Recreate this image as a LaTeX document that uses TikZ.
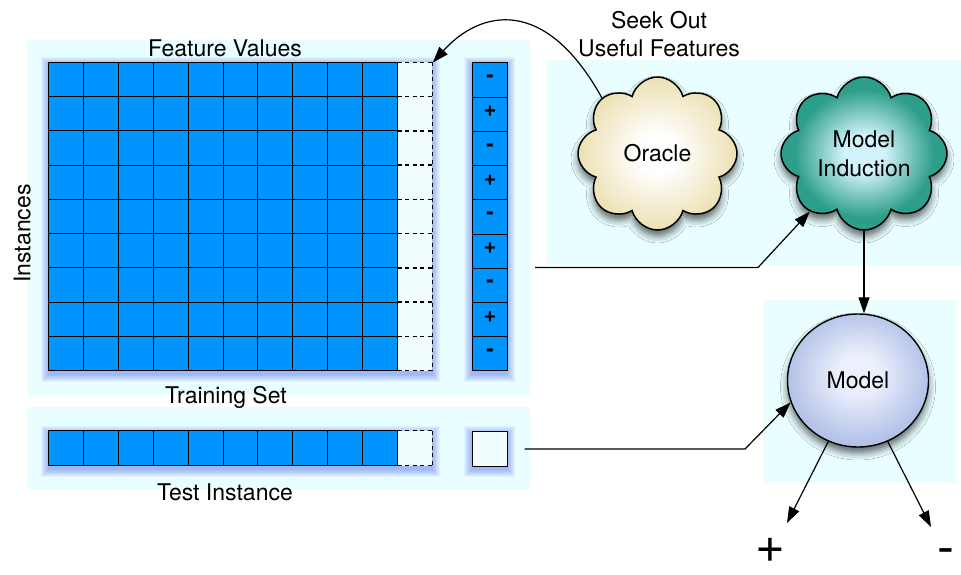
\documentclass[tikz,border=0pt]{standalone}
\usepackage{fontspec}
\setmainfont{TeX Gyre Heros}
\usetikzlibrary{shapes.symbols,shapes.geometric,arrows.meta,shadows.blur,calc}
\definecolor{panelc}{RGB}{233,254,255}
\definecolor{cellblue}{RGB}{0,148,255}
\definecolor{ghost}{RGB}{242,253,255}
\definecolor{glowc}{RGB}{30,60,235}
\definecolor{oracleout}{RGB}{236,224,178}
\definecolor{inductout}{RGB}{45,158,138}
\definecolor{inductin}{RGB}{210,243,250}
\definecolor{modelout}{RGB}{180,194,232}
\definecolor{modelin}{RGB}{236,240,252}
\pgfdeclareradialshading{oracleshade}{\pgfpoint{0bp}{0bp}}{color(0bp)=(white); color(6bp)=(white); color(25bp)=(oracleout); color(50bp)=(oracleout)}
\pgfdeclareradialshading{inductshade}{\pgfpoint{0bp}{0bp}}{color(0bp)=(inductin); color(6bp)=(inductin); color(21bp)=(inductout); color(50bp)=(inductout)}
\pgfdeclareradialshading{modelshade}{\pgfpoint{0bp}{3bp}}{color(0bp)=(modelin); color(7bp)=(modelin); color(25bp)=(modelout); color(50bp)=(modelout)}
\tikzset{
  lbl/.style={font=\fontsize{23}{28.4}\selectfont, inner sep=0pt},
  cellbox/.style={draw=black, line width=0.9pt, fill=cellblue},
  ghostline/.style={draw=black, line width=1.4pt, dash pattern=on 4pt off 3.5pt},
  sign/.style={font=\fontsize{22}{22}\bfseries\selectfont, text height=0.52em, text depth=0pt},
  bigsign/.style={font=\fontsize{51}{51}\selectfont, inner sep=0pt, text height=0.52em, text depth=0pt},
  arr/.style={draw=black, line width=1.2pt, -{Triangle[length=16pt,width=11pt]}},
  softshadow/.style={blur shadow={shadow xshift=0pt, shadow yshift=-6pt, shadow blur radius=7pt, shadow opacity=60}},
  cloudnode/.style={cloud, cloud puffs=8, cloud ignores aspect, draw=black, line width=1.5pt,
    inner sep=0pt, align=center, font=\fontsize{23}{28.6}\selectfont, shade, softshadow},
}
\begin{document}
\begin{tikzpicture}[x=1pt,y=-1pt]
\useasboundingbox (0,0) rectangle (961,575);
% panels
\fill[panelc] (27,40) rectangle (530,395);
\fill[panelc] (27,407) rectangle (530,489);
\fill[panelc] (547,60) rectangle (961,265);
\fill[panelc] (763,300) rectangle (955,483);
% glows
\foreach \i in {1,...,8}{
  \fill[glowc,opacity=0.05] (48.5-\i,62.5-\i+3) rectangle (432.4+\i,370.5+\i+3);
  \fill[glowc,opacity=0.05] (472-\i,62.5-\i+3) rectangle (507+\i,370.5+\i+3);
  \fill[glowc,opacity=0.05] (48.5-\i,430.7-\i+3) rectangle (432.4+\i,465.7+\i+3);
  \fill[glowc,opacity=0.05] (472-\i,430.7-\i+3) rectangle (507+\i,465.7+\i+3);
}
% training grid
\fill[ghost] (397.5,62.5) rectangle (432.4,370.5);
\foreach \r in {0,...,8}{
  \foreach \c in {0,...,9}
    \draw[cellbox] (48.5+\c*34.9,62.5+\r*34.22) rectangle ++(34.9,34.22);
}
\foreach \r in {0,...,9}
  \draw[ghostline] (397.5,62.5+\r*34.22) -- ++(34.9,0);
\draw[ghostline] (397.5,62.5) -- (397.5,370.5);
\draw[ghostline] (432.4,62.5) -- (432.4,370.5);
\node[inner sep=0pt, minimum width=34.9pt, minimum height=307.98pt, anchor=north west] (newcol) at (397.5,62.5) {};
% class labels
\foreach \r/\s in {0/-,1/+,2/-,3/+,4/-,5/+,6/-,7/+,8/-}
  \node[cellbox, sign, inner sep=0pt, minimum width=35pt, minimum height=34.22pt, anchor=north west] (lab\r) at (472,62.5+\r*34.22) {\s};
% test instance
\fill[ghost] (397.5,430.7) rectangle (432.4,465.7);
\foreach \c in {0,...,9}
  \draw[cellbox] (48.5+\c*34.9,430.7) rectangle ++(34.9,35);
\draw[ghostline] (397.5,430.7) -- ++(34.9,0);
\draw[ghostline] (397.5,465.7) -- ++(34.9,0);
\draw[ghostline] (397.5,430.7) -- (397.5,465.7);
\draw[ghostline] (432.4,430.7) -- (432.4,465.7);
\node[cellbox, fill=ghost, inner sep=0pt, minimum width=35pt, minimum height=35pt, anchor=north west] (testbox) at (472,430.7) {};
% texts
\node[lbl, anchor=base] (fv) at (225,56.7) {Feature Values};
\node[lbl, anchor=base] (trainlbl) at (226,403) {Training Set};
\node[lbl, anchor=base] (testlbl) at (225,500.7) {Test Instance};
\node[lbl, anchor=base, rotate=90] (inst) at (30.5,233.5) {Instances};
\node[lbl, align=center] (seek) at (659,34) {Seek Out\\Useful Features};
% clouds and model
\node[cloudnode, shading=oracleshade, minimum width=159pt, minimum height=153pt] (oracle) at (657.5,153.5) {Oracle};
\node[cloudnode, shading=inductshade, minimum width=166pt, minimum height=153pt] (induct) at (864,153.5) {Model\\Induction};
\node[ellipse, draw=black, line width=1.4pt, shade, shading=modelshade, softshadow, minimum width=141pt, minimum height=133pt, inner sep=0pt, font=\fontsize{23}{28.6}\selectfont] (model) at (858,380.5) {Model};
\node[bigsign] (plus) at (770,559.5) {+};
\node[bigsign] (minus) at (945.5,561.5) {-};
% coordinates
\coordinate (trainout) at (535,267.5);
\coordinate (trainknee) at (758,267.5);
\coordinate (testout) at (524.5,449);
\coordinate (testknee) at (745,449);
\coordinate (plustip) at (787,523);
\coordinate (minustip) at (931,527);
% connectors
\draw[arr] (oracle.135) .. controls (545,-5) and (480,10) .. (newcol.north east);
\draw[arr] (trainout) -- (trainknee) -- (induct.227);
\draw[arr] (induct.south) -- (induct.south |- model.north);
\draw[arr] (testout) -- (testknee) -- (model.198);
\draw[arr] (model.244) -- (plustip);
\draw[arr] (model.296) -- (minustip);
\end{tikzpicture}
\end{document}
